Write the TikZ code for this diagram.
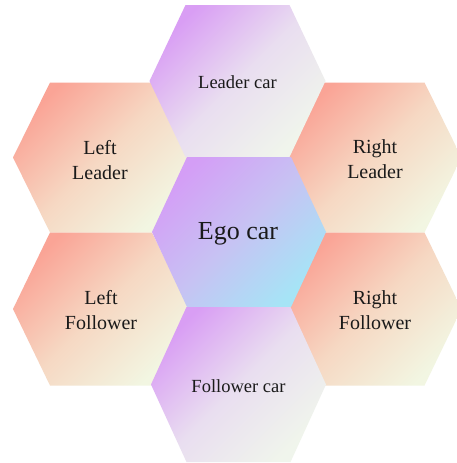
\documentclass[tikz,border=0pt]{standalone}
\usepackage{fontspec}
\setmainfont{Liberation Serif}
\definecolor{midtop}{HTML}{D99EF4}
\definecolor{midmid}{HTML}{E9DEF0}
\definecolor{midbot}{HTML}{F0F5EC}
\definecolor{egotop}{HTML}{D49EF6}
\definecolor{egomid}{HTML}{C7C2F3}
\definecolor{egobot}{HTML}{A6E4F6}
\definecolor{sidetop}{HTML}{FAA496}
\definecolor{sidemid}{HTML}{F6D8C3}
\definecolor{sidebot}{HTML}{F2F6E2}
\definecolor{txt}{HTML}{1A1A1A}
\newcommand{\myhex}[6]{\path[#6] (#1-#3,#2) -- (#1-#4,#2-#5) -- (#1+#4,#2-#5) -- (#1+#3,#2) -- (#1+#4,#2+#5) -- (#1-#4,#2+#5) -- cycle;}
\begin{document}
\begin{tikzpicture}[x=1pt,y=-1pt,
  sidehex/.style={shade, top color=sidetop, bottom color=sidebot, middle color=sidemid, shading angle=45},
  midhex/.style={shade, top color=midtop, bottom color=midbot, middle color=midmid, shading angle=45},
  egohex/.style={shade, top color=egotop, bottom color=egobot, middle color=egomid, shading angle=45},
  lbl/.style={text=txt, align=center, font=\fontsize{20}{25}\selectfont, inner sep=0pt},
  carlbl/.style={text=txt, align=center, font=\fontsize{18.5}{22}\selectfont, inner sep=0pt},
  egolbl/.style={text=txt, align=center, font=\fontsize{26}{30}\selectfont, inner sep=0pt}]
\useasboundingbox (0,0) rectangle (456,463);
\fill[white] (0,0) rectangle (456,463);
% side hexagons
\myhex{101}{157.5}{88}{51}{75}{sidehex}
\myhex{373.5}{157.5}{88}{51}{75}{sidehex}
\myhex{101}{309}{88}{51}{76.5}{sidehex}
\myhex{373.5}{309}{88}{51}{76.5}{sidehex}
% middle column
\myhex{237.5}{81}{88}{52}{76}{midhex}
\myhex{239}{232}{87}{52}{75}{egohex}
\myhex{238.5}{384.5}{87.5}{52}{77.5}{midhex}
% labels
\node[carlbl] (leader) at (237.5,82) {Leader car};
\node[egolbl] (ego) at (238,234) {Ego car};
\node[carlbl] (follower) at (238.5,386) {Follower car};
\node[lbl] (lleader) at (100,160) {Left\\Leader};
\node[lbl] (rleader) at (375,159) {Right\\Leader};
\node[lbl] (lfollower) at (101,310) {Left\\Follower};
\node[lbl] (rfollower) at (375,310) {Right\\Follower};
\end{tikzpicture}
\end{document}
